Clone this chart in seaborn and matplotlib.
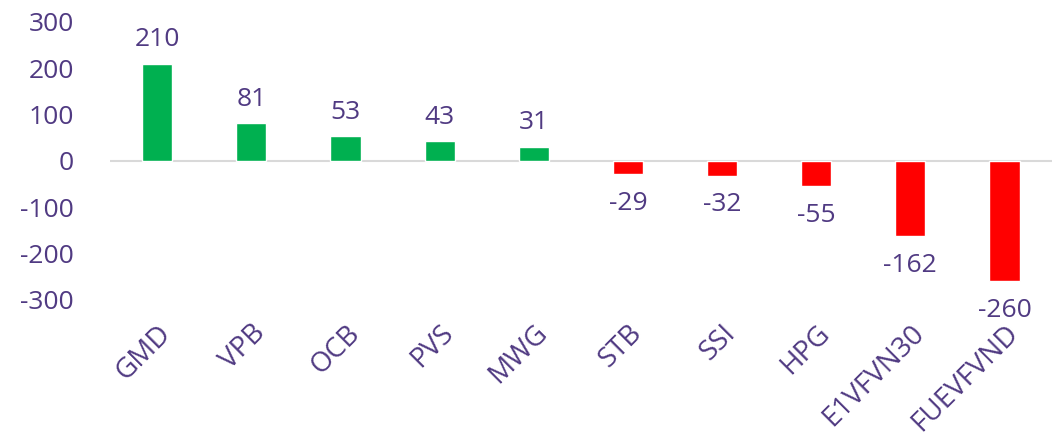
import matplotlib

matplotlib.use("Agg")
import matplotlib.pyplot as plt
import pandas as pd
import seaborn as sns

tickers = ["GMD", "VPB", "OCB", "PVS", "MWG", "STB", "SSI", "HPG", "E1VFVN30", "FUEVFVND"]
net_values = [210, 81, 53, 43, 31, -29, -32, -55, -162, -260]
y_ticks = [-300, -200, -100, 0, 100, 200, 300]

TEXT = "#503A82"
GREEN = "#00B050"
RED = "#FF0000"

df = pd.DataFrame({"ticker": tickers, "value": net_values})
df["side"] = ["buy" if v >= 0 else "sell" for v in df["value"]]

sns.set_style("white")
plt.rcParams["font.family"] = ["Open Sans", "DejaVu Sans"]

fig = plt.figure(figsize=(10.59, 4.36), dpi=100)
ax = fig.add_axes([0.104, 0.312, 0.889, 0.638])
sns.barplot(
    data=df, x="ticker", y="value", hue="side",
    palette={"buy": GREEN, "sell": RED}, saturation=1,
    width=0.32, dodge=False, legend=False, ax=ax,
)

for i, v in enumerate(net_values):
    offset = 8 if v >= 0 else -12
    ax.annotate(
        f"{v}", (i, v), xytext=(0, offset), textcoords="offset points",
        ha="center", va="bottom" if v >= 0 else "top",
        fontsize=19, color=TEXT,
    )

ax.set_ylim(-300, 300)
ax.set_xlim(-0.5, len(tickers) - 0.5)
ax.set_yticks(y_ticks)
ax.set_yticklabels([str(t) for t in y_ticks], fontsize=19, color=TEXT)
ax.axhline(0, color="#D9D9D9", lw=1.5, zorder=0)
for s in ax.spines.values():
    s.set_visible(False)
ax.tick_params(axis="both", length=0)
ax.tick_params(axis="y", pad=26)
ax.set_xticks(range(len(tickers)))
ax.set_xticklabels(tickers, rotation=45, ha="right", rotation_mode="anchor",
                   fontsize=20, color=TEXT)
ax.tick_params(axis="x", pad=14)
ax.set_xlabel("")
ax.set_ylabel("")

fig.savefig("out.png", dpi=100)
